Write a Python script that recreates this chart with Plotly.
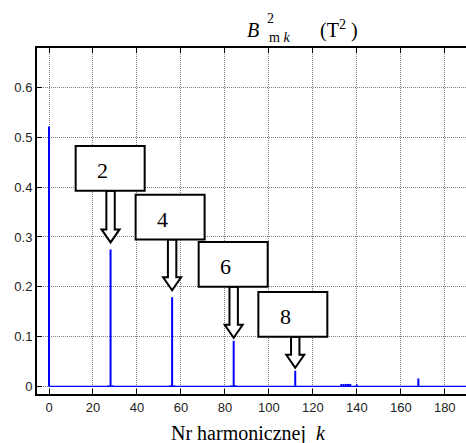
import plotly.graph_objects as go

# Harmonic spectrum of the squared flux density amplitude
harmonic_k = [0, 27, 28, 29, 55, 56, 57, 83, 84, 85, 112, 133, 134, 135, 136, 137, 140, 168]
b_sq = [0.522, 0.002, 0.275, 0.002, 0.002, 0.179, 0.002, 0.002, 0.0916, 0.002,
        0.0315, 0.005, 0.005, 0.005, 0.005, 0.005, 0.004, 0.016]

# Callouts: label shown in the box and the harmonic its arrow points at
callout_labels = ["2", "4", "6", "8"]
callout_k = [28, 56, 84, 112]

x_ticks = list(range(0, 181, 20))
y_ticks = [0, 0.1, 0.2, 0.3, 0.4, 0.5, 0.6]
y_tick_text = ["0", "0.1", "0.2", "0.3", "0.4", "0.5", "0.6"]

# Figure geometry
W, H = 466, 443
ML, MR, MT, MB = 37, 0, 48, 49
X_RANGE = [-5.46, 189.67]
Y_RANGE = [-0.0152, 0.6794]

# Callout box placement (pixels): box top, box horizontal centre offset, arrow tip gap
box_top_px = [146, 194.7, 242, 292]
box_dx_px = [-0.4, -2.0, -0.5, -2.4]
tip_gap_px = [7, 7, 3, 3]
head_len_px = [13, 13, 13, 13]
BOX_W, BOX_H = 69, 44.7
SHAFT_HW, HEAD_HW = 4.2, 9


def x_to_px(x):
    return ML + (x - X_RANGE[0]) / (X_RANGE[1] - X_RANGE[0]) * (W - ML - MR)


def px_to_x(px):
    return X_RANGE[0] + (px - ML) / (W - ML - MR) * (X_RANGE[1] - X_RANGE[0])


def y_to_px(y):
    return MT + (Y_RANGE[1] - y) / (Y_RANGE[1] - Y_RANGE[0]) * (H - MT - MB)


def px_to_y(py):
    return Y_RANGE[1] - (py - MT) / (H - MT - MB) * (Y_RANGE[1] - Y_RANGE[0])


def px_to_paper(px, py):
    return (px - ML) / (W - ML - MR), (H - MB - py) / (H - MT - MB)


# Stems
stem_x, stem_y = [], []
for k, v in zip(harmonic_k, b_sq):
    stem_x += [k, k, None]
    stem_y += [0, v, None]

fig = go.Figure()
fig.add_trace(go.Scatter(x=[0, 200], y=[0, 0], mode="lines",
                         line=dict(color="#0000ff", width=1.2), hoverinfo="skip"))
fig.add_trace(go.Scatter(x=stem_x, y=stem_y, mode="lines",
                         line=dict(color="#0000ff", width=2), hoverinfo="skip"))

shapes = []
annotations = []
value_of = dict(zip(harmonic_k, b_sq))
for i, (lab, k) in enumerate(zip(callout_labels, callout_k)):
    ax_px = x_to_px(k)
    tip_py = y_to_px(value_of[k]) - tip_gap_px[i]
    head_py = tip_py - head_len_px[i]
    top = box_top_px[i]
    bottom = top + BOX_H
    bcx = ax_px + box_dx_px[i]
    pts = [(ax_px - SHAFT_HW, bottom), (ax_px - SHAFT_HW, head_py),
           (ax_px - HEAD_HW, head_py), (ax_px, tip_py),
           (ax_px + HEAD_HW, head_py), (ax_px + SHAFT_HW, head_py),
           (ax_px + SHAFT_HW, bottom)]
    path = "M " + " L ".join(f"{px_to_x(px):.4f},{px_to_y(py):.5f}" for px, py in pts) + " Z"
    shapes.append(dict(type="path", path=path, xref="x", yref="y",
                       line=dict(color="black", width=2), fillcolor="white"))
    shapes.append(dict(type="rect", xref="x", yref="y",
                       x0=px_to_x(bcx - BOX_W / 2), x1=px_to_x(bcx + BOX_W / 2),
                       y0=px_to_y(bottom), y1=px_to_y(top),
                       line=dict(color="black", width=2), fillcolor="white"))
    annotations.append(dict(x=px_to_x(bcx - 7.5), y=px_to_y(top + BOX_H / 2 + 2),
                            xref="x", yref="y", text=lab, showarrow=False,
                            font=dict(family="Liberation Serif", size=22, color="black")))

serif = "Liberation Serif"
# Title B^2_{m k} (T^2) and the axis caption, placed in pixels
text_items = [
    (252.5, 30, "<i>B</i>", 20),
    (270.5, 18, "2", 14),
    (279, 38, "m <i>k</i>", 14),
    (339, 29, "(T<sup>2</sup> )", 20),
    (248, 433, "Nr harmonicznej  <i>k</i>", 20),
]
for px, py, txt, size in text_items:
    xp, yp = px_to_paper(px, py)
    annotations.append(dict(x=xp, y=yp, xref="paper", yref="paper", text=txt,
                            showarrow=False, xanchor="center", yanchor="middle",
                            font=dict(family=serif, size=size, color="black")))

axis_common = dict(showline=True, linecolor="black", linewidth=2,
                   ticks="inside", ticklen=5, tickwidth=1, tickcolor="black",
                   showgrid=True, gridcolor="#808080", griddash="1px,1px", gridwidth=1,
                   zeroline=False,
                   tickfont=dict(family="Liberation Sans", size=13, color="#222"))

fig.update_layout(
    width=W, height=H,
    margin=dict(l=ML, r=MR, t=MT, b=MB, pad=0),
    paper_bgcolor="white", plot_bgcolor="white",
    showlegend=False,
    xaxis=dict(range=X_RANGE, tickvals=x_ticks, mirror="ticks", **axis_common),
    yaxis=dict(range=Y_RANGE, tickvals=y_ticks, ticktext=y_tick_text, mirror=False, **axis_common),
    shapes=shapes,
    annotations=annotations,
)

fig.write_html("out.html")
